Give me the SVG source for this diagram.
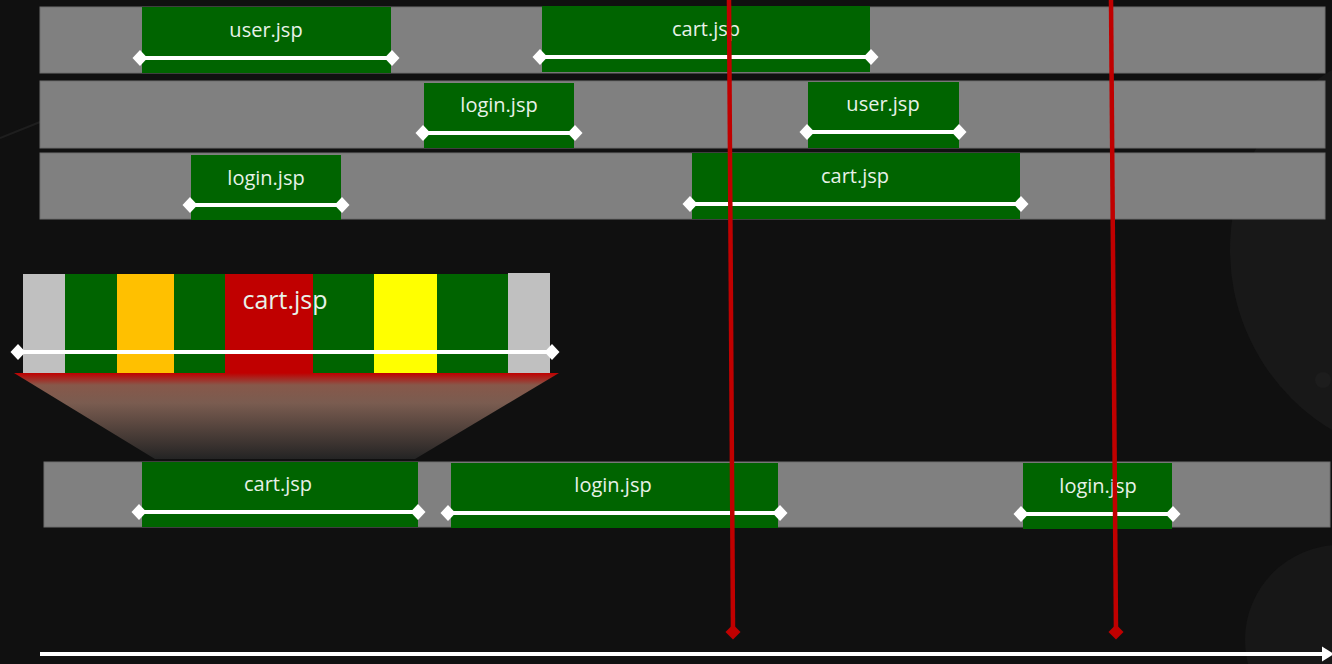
<svg xmlns="http://www.w3.org/2000/svg" width="1332" height="664" viewBox="0 0 1332 664">
  <defs>
    <style>
      .row { fill: #808080; stroke: #6e6e6e; stroke-width: 1; }
      .req { fill: #006400; }
      .span { stroke: #ffffff; stroke-width: 4; fill: none; marker-start: url(#dia); marker-end: url(#dia); }
      .lbl { font-family: "Open Sans", "Noto Sans", "DejaVu Sans", sans-serif; font-size: 20px; fill: #e8f2e8; text-anchor: middle; }
      .big { font-size: 25px; }
      .cut { stroke: #c00000; stroke-width: 4.5; fill: none; marker-end: url(#rdia); }
      .axis { stroke: #ffffff; stroke-width: 4; fill: none; marker-end: url(#arr); }
    </style>
    <marker id="dia" viewBox="-8 -8 16 16" refX="0" refY="0" markerWidth="16" markerHeight="16" markerUnits="userSpaceOnUse" orient="0">
      <path d="M-7.5,0 L0,-8 L7.5,0 L0,8 Z" fill="#ffffff"/>
    </marker>
    <marker id="rdia" viewBox="-8 -8 16 16" refX="0" refY="0" markerWidth="16" markerHeight="16" markerUnits="userSpaceOnUse" orient="0">
      <path d="M-7.5,0 L0,-7.5 L7.5,0 L0,7.5 Z" fill="#c00000"/>
    </marker>
    <marker id="arr" viewBox="0 -8 14 16" refX="2" refY="0" markerWidth="14" markerHeight="16" markerUnits="userSpaceOnUse" orient="auto">
      <path d="M0,-7.5 L12,0 L0,7.5 Z" fill="#ffffff"/>
    </marker>
    <linearGradient id="funnel" x1="0" y1="0" x2="0" y2="1">
      <stop offset="0" stop-color="#c00000"/>
      <stop offset="0.14" stop-color="#87584a"/>
      <stop offset="0.35" stop-color="#7a5c50"/>
      <stop offset="1" stop-color="#242424"/>
    </linearGradient>
  </defs>

  <!-- background -->
  <rect x="0" y="0" width="1332" height="664" fill="#101010"/>
  <circle cx="1440" cy="250" r="210" fill="#181818"/>
  <circle cx="1340" cy="640" r="95" fill="#171717"/>
  <circle cx="1323" cy="380" r="8" fill="#1d1d1d"/>
  <path d="M0,138 L40,122" stroke="#1e1e1e" stroke-width="2"/>

  <!-- timeline rows -->
  <g id="row1">
    <rect class="row" x="40" y="7" width="1285" height="66"/>
  </g>
  <g id="row2">
    <rect class="row" x="40" y="81" width="1285" height="67"/>
  </g>
  <g id="row3">
    <rect class="row" x="40" y="153" width="1285" height="66"/>
  </g>
  <g id="row4">
    <rect class="row" x="44" y="462" width="1286" height="65"/>
  </g>

  <!-- requests row 1 -->
  <g id="r1-user">
    <rect class="req" x="142" y="7" width="249" height="66"/>
    <text class="lbl" x="266" y="37">user.jsp</text>
  </g>
  <g id="r1-cart">
    <rect class="req" x="542" y="6" width="328" height="66"/>
    <text class="lbl" x="706" y="36">cart.jsp</text>
  </g>

  <!-- requests row 2 -->
  <g id="r2-login">
    <rect class="req" x="424" y="83" width="150" height="65"/>
    <text class="lbl" x="499" y="112">login.jsp</text>
  </g>
  <g id="r2-user">
    <rect class="req" x="808" y="82" width="151" height="66"/>
    <text class="lbl" x="883" y="111">user.jsp</text>
  </g>

  <!-- requests row 3 -->
  <g id="r3-login">
    <rect class="req" x="191" y="155" width="150" height="65"/>
    <text class="lbl" x="266" y="185">login.jsp</text>
  </g>
  <g id="r3-cart">
    <rect class="req" x="692" y="153" width="328" height="66"/>
    <text class="lbl" x="855" y="183">cart.jsp</text>
  </g>

  <!-- expanded cart.jsp breakdown -->
  <g id="expanded-cart">
    <path d="M14,373 L559,373 L415,459 L155,459 Z" fill="url(#funnel)"/>
    <rect x="23" y="274" width="42" height="99" fill="#c0c0c0"/>
    <rect x="65" y="274" width="52" height="99" fill="#006400"/>
    <rect x="117" y="274" width="57" height="99" fill="#ffc000"/>
    <rect x="174" y="274" width="51" height="99" fill="#006400"/>
    <rect x="225" y="274" width="88" height="99" fill="#c00000"/>
    <rect x="313" y="274" width="61" height="99" fill="#006400"/>
    <rect x="374" y="274" width="63" height="99" fill="#ffff00"/>
    <rect x="437" y="274" width="71" height="99" fill="#006400"/>
    <rect x="508" y="273" width="42" height="100" fill="#c0c0c0"/>
    <text class="lbl big" x="285" y="309">cart.jsp</text>
  </g>

  <!-- requests row 4 -->
  <g id="r4-cart">
    <rect class="req" x="142" y="462" width="276" height="65"/>
    <text class="lbl" x="278" y="491">cart.jsp</text>
  </g>
  <g id="r4-login">
    <rect class="req" x="451" y="463" width="327" height="65"/>
    <text class="lbl" x="613" y="492">login.jsp</text>
  </g>
  <g id="r4-login2">
    <rect class="req" x="1023" y="463" width="149" height="66"/>
    <text class="lbl" x="1098" y="493">login.jsp</text>
  </g>

  <!-- connectors: duration spans, cut lines, time axis -->
  <g id="connectors">
    <line class="span" x1="140" y1="58" x2="392" y2="58"/>
    <line class="span" x1="540" y1="57" x2="871" y2="57"/>
    <line class="span" x1="423" y1="133" x2="575" y2="133"/>
    <line class="span" x1="807" y1="132" x2="959" y2="132"/>
    <line class="span" x1="190" y1="205" x2="342" y2="205"/>
    <line class="span" x1="690" y1="204" x2="1021" y2="204"/>
    <line class="span" x1="18" y1="352" x2="552" y2="352"/>
    <line class="span" x1="139" y1="512" x2="418" y2="512"/>
    <line class="span" x1="448" y1="513" x2="780" y2="513"/>
    <line class="span" x1="1021" y1="514" x2="1173" y2="514"/>
    <line class="cut" x1="729" y1="0" x2="733" y2="632"/>
    <line class="cut" x1="1111" y1="0" x2="1116" y2="632"/>
    <line class="axis" x1="40" y1="654" x2="1324" y2="654"/>
  </g>
</svg>
